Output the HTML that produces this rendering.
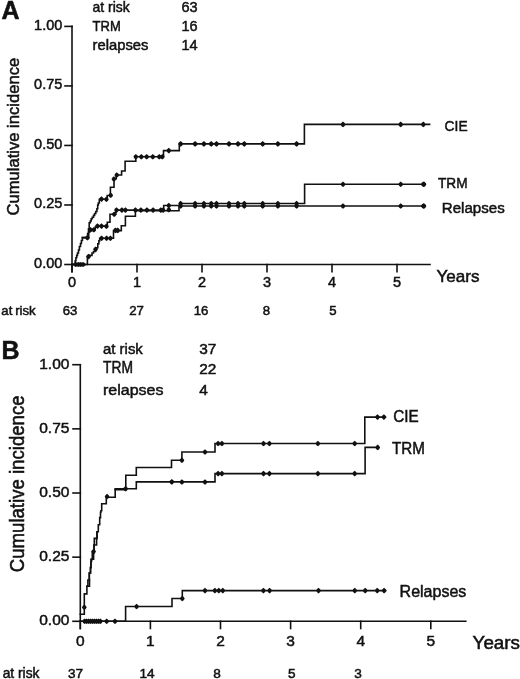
<!DOCTYPE html>
<html><head><meta charset="utf-8"><title>Cumulative incidence</title>
<style>
html,body{margin:0;padding:0;background:#fff;}
svg{display:block;}
text{font-family:"Liberation Sans", Arial, Helvetica, sans-serif;fill:#111;stroke:#111;stroke-width:0.5px;}
</style></head>
<body>
<svg width="520" height="679" viewBox="0 0 520 679">
<rect width="520" height="679" fill="#fff"/>
<g stroke="#111" fill="#111" stroke-linecap="square">
<line x1="72.0" y1="26.4" x2="72.0" y2="271.6" stroke-width="1.6"/>
<line x1="72.0" y1="264.5" x2="430" y2="264.5" stroke-width="1.6"/>
<line x1="65" y1="264.5" x2="72.0" y2="264.5" stroke-width="1.6"/>
<line x1="65" y1="204.975" x2="72.0" y2="204.975" stroke-width="1.6"/>
<line x1="65" y1="145.45" x2="72.0" y2="145.45" stroke-width="1.6"/>
<line x1="65" y1="85.92500000000001" x2="72.0" y2="85.92500000000001" stroke-width="1.6"/>
<line x1="65" y1="26.400000000000006" x2="72.0" y2="26.400000000000006" stroke-width="1.6"/>
<line x1="72.0" y1="264.5" x2="72.0" y2="271.6" stroke-width="1.6"/>
<line x1="137.0" y1="264.5" x2="137.0" y2="271.6" stroke-width="1.6"/>
<line x1="202.0" y1="264.5" x2="202.0" y2="271.6" stroke-width="1.6"/>
<line x1="267.0" y1="264.5" x2="267.0" y2="271.6" stroke-width="1.6"/>
<line x1="332.0" y1="264.5" x2="332.0" y2="271.6" stroke-width="1.6"/>
<line x1="397.0" y1="264.5" x2="397.0" y2="271.6" stroke-width="1.6"/>
<text x="62.3" y="267.6" font-size="14.5" text-anchor="end">0.00</text>
<text x="62.3" y="208.1" font-size="14.5" text-anchor="end">0.25</text>
<text x="62.3" y="148.5" font-size="14.5" text-anchor="end">0.50</text>
<text x="62.3" y="89.0" font-size="14.5" text-anchor="end">0.75</text>
<text x="62.3" y="29.5" font-size="14.5" text-anchor="end">1.00</text>
<text x="72.0" y="286.7" font-size="14.5" text-anchor="middle">0</text>
<text x="137.0" y="286.7" font-size="14.5" text-anchor="middle">1</text>
<text x="202.0" y="286.7" font-size="14.5" text-anchor="middle">2</text>
<text x="267.0" y="286.7" font-size="14.5" text-anchor="middle">3</text>
<text x="332.0" y="286.7" font-size="14.5" text-anchor="middle">4</text>
<text x="397.0" y="286.7" font-size="14.5" text-anchor="middle">5</text>
<text x="436.5" y="281.5" font-size="16.4" text-anchor="start" textLength="43.0" lengthAdjust="spacingAndGlyphs">Years</text>
<text transform="translate(18.7,215.5) rotate(-90)" font-size="16.6">Cumulative incidence</text>
<text x="1.5" y="18.8" font-size="25" text-anchor="start" font-weight="bold">A</text>
<text x="92.6" y="11.6" font-size="14.5" text-anchor="start" textLength="37.2" lengthAdjust="spacingAndGlyphs">at risk</text>
<text x="181.5" y="11.6" font-size="14.5" text-anchor="start">63</text>
<text x="92.6" y="31.2" font-size="14.8" text-anchor="start" textLength="28.2" lengthAdjust="spacingAndGlyphs">TRM</text>
<text x="181.5" y="31.2" font-size="14.5" text-anchor="start">16</text>
<text x="92.6" y="49.7" font-size="14.5" text-anchor="start" textLength="55.8" lengthAdjust="spacingAndGlyphs">relapses</text>
<text x="181.5" y="49.7" font-size="14.5" text-anchor="start">14</text>
<text x="444.6" y="131.4" font-size="15.4" text-anchor="start" textLength="23.0" lengthAdjust="spacingAndGlyphs">CIE</text>
<text x="438.0" y="187.8" font-size="15.3" text-anchor="start" textLength="29.6" lengthAdjust="spacingAndGlyphs">TRM</text>
<text x="441.8" y="212.8" font-size="15.1" text-anchor="start">Relapses</text>
<text x="1.3" y="314.7" font-size="13.2" text-anchor="start" word-spacing="-0.8">at risk</text>
<text x="70.1" y="314.7" font-size="13.2" text-anchor="middle">63</text>
<text x="136.6" y="314.7" font-size="13.2" text-anchor="middle">27</text>
<text x="201" y="314.7" font-size="13.2" text-anchor="middle">16</text>
<text x="266.5" y="314.7" font-size="13.2" text-anchor="middle">8</text>
<text x="333" y="314.7" font-size="13.2" text-anchor="middle">5</text>
<path d="M72,264.5 H75.2 V260.8 H75.9 V257.7 H76.7 V255.4 H77.5 V253 H78.5 V250 H79.4 V246.5 H80.5 V243.5 H81.4 V240.5 H82.4 V237.6 H87.6 V233.5 H88.5 V228.8 H89.2 V222.7 H90.3 V221 H91.2 V218.8 H92.3 V217.3 H93.5 V215.4 H94.6 V213.5 H95.8 V211.5 H96.9 V208.8 H97.7 V205 H98.3 V203 H99.3 V199.3 H107.2 V195.5 H110.4 V187.3 H114 V178.8 H116.2 V175 H121.6 V171 H125.1 V161.2 H135.8 V156.8 H163.5 V150.6 H179.3 V143.9 H304.4 V124.4 H429.6" fill="none" stroke-width="1.6"/>
<path d="M82.4,237.6 H88.7 V232 H89.5 V229.7 H95.2 V227 H96.5 V226.1 H107.3 V222.3 H110 V214.2 H115.8 V210.1 H163.7 V205.5 H180 V203.5 H304.6 V184.3 H425.2" fill="none" stroke-width="1.6"/>
<path d="M72,264.5 H87.4 V256.9 H89.5 V255.4 H92 V253 H93.5 V251.5 H95.5 V249.2 H96.6 V247.7 H97.8 V243.8 H98.9 V240.8 H99.7 V238.3 H113.5 V230.6 H121.3 V225.8 H125.4 V216.2 H135.4 V210.8 H179 V206 H425.2" fill="none" stroke-width="1.6"/>
<path d="M72.80,264.5 Q73.76,262.87 75.8,262.10 Q77.84,262.87 78.80,264.5 Q77.84,266.13 75.8,266.90 Q73.76,266.13 72.80,264.5Z" stroke="none"/>
<path d="M75.30,264.5 Q76.26,262.87 78.3,262.10 Q80.34,262.87 81.30,264.5 Q80.34,266.13 78.3,266.90 Q76.26,266.13 75.30,264.5Z" stroke="none"/>
<path d="M77.60,264.5 Q78.56,262.87 80.6,262.10 Q82.64,262.87 83.60,264.5 Q82.64,266.13 80.6,266.90 Q78.56,266.13 77.60,264.5Z" stroke="none"/>
<path d="M80.00,264.5 Q80.96,262.87 83.0,262.10 Q85.04,262.87 86.00,264.5 Q85.04,266.13 83.0,266.90 Q80.96,266.13 80.00,264.5Z" stroke="none"/>
<path d="M85.00,237.7 Q85.77,235.80 87.4,234.90 Q89.03,235.80 89.80,237.7 Q89.03,239.60 87.4,240.50 Q85.77,239.60 85.00,237.7Z" stroke="none"/>
<path d="M99.10,199.1 Q99.87,197.20 101.5,196.30 Q103.13,197.20 103.90,199.1 Q103.13,201.00 101.5,201.90 Q99.87,201.00 99.10,199.1Z" stroke="none"/>
<path d="M104.00,199.3 Q104.77,197.40 106.4,196.50 Q108.03,197.40 108.80,199.3 Q108.03,201.20 106.4,202.10 Q104.77,201.20 104.00,199.3Z" stroke="none"/>
<path d="M108.30,195.3 Q109.07,193.40 110.7,192.50 Q112.33,193.40 113.10,195.3 Q112.33,197.20 110.7,198.10 Q109.07,197.20 108.30,195.3Z" stroke="none"/>
<path d="M111.50,179 Q112.27,177.10 113.9,176.20 Q115.53,177.10 116.30,179 Q115.53,180.90 113.9,181.80 Q112.27,180.90 111.50,179Z" stroke="none"/>
<path d="M114.40,175 Q115.17,173.10 116.8,172.20 Q118.43,173.10 119.20,175 Q118.43,176.90 116.8,177.80 Q115.17,176.90 114.40,175Z" stroke="none"/>
<path d="M133.40,156.8 Q134.17,154.90 135.8,154.00 Q137.43,154.90 138.20,156.8 Q137.43,158.70 135.8,159.60 Q134.17,158.70 133.40,156.8Z" stroke="none"/>
<path d="M138.90,156.8 Q139.67,154.90 141.3,154.00 Q142.93,154.90 143.70,156.8 Q142.93,158.70 141.3,159.60 Q139.67,158.70 138.90,156.8Z" stroke="none"/>
<path d="M144.30,156.8 Q145.07,154.90 146.7,154.00 Q148.33,154.90 149.10,156.8 Q148.33,158.70 146.7,159.60 Q145.07,158.70 144.30,156.8Z" stroke="none"/>
<path d="M150.40,156.8 Q151.17,154.90 152.8,154.00 Q154.43,154.90 155.20,156.8 Q154.43,158.70 152.8,159.60 Q151.17,158.70 150.40,156.8Z" stroke="none"/>
<path d="M156.90,156.8 Q157.67,154.90 159.3,154.00 Q160.93,154.90 161.70,156.8 Q160.93,158.70 159.3,159.60 Q157.67,158.70 156.90,156.8Z" stroke="none"/>
<path d="M159.90,156.8 Q160.67,154.90 162.3,154.00 Q163.93,154.90 164.70,156.8 Q163.93,158.70 162.3,159.60 Q160.67,158.70 159.90,156.8Z" stroke="none"/>
<path d="M166.40,150.6 Q167.17,148.70 168.8,147.80 Q170.43,148.70 171.20,150.6 Q170.43,152.50 168.8,153.40 Q167.17,152.50 166.40,150.6Z" stroke="none"/>
<path d="M178.20,143.9 Q178.97,142.00 180.6,141.10 Q182.23,142.00 183.00,143.9 Q182.23,145.80 180.6,146.70 Q178.97,145.80 178.20,143.9Z" stroke="none"/>
<path d="M192.70,143.9 Q193.47,142.00 195.1,141.10 Q196.73,142.00 197.50,143.9 Q196.73,145.80 195.1,146.70 Q193.47,145.80 192.70,143.9Z" stroke="none"/>
<path d="M201.50,143.9 Q202.27,142.00 203.9,141.10 Q205.53,142.00 206.30,143.9 Q205.53,145.80 203.9,146.70 Q202.27,145.80 201.50,143.9Z" stroke="none"/>
<path d="M208.80,143.9 Q209.57,142.00 211.2,141.10 Q212.83,142.00 213.60,143.9 Q212.83,145.80 211.2,146.70 Q209.57,145.80 208.80,143.9Z" stroke="none"/>
<path d="M214.10,143.9 Q214.87,142.00 216.5,141.10 Q218.13,142.00 218.90,143.9 Q218.13,145.80 216.5,146.70 Q214.87,145.80 214.10,143.9Z" stroke="none"/>
<path d="M226.60,143.9 Q227.37,142.00 229.0,141.10 Q230.63,142.00 231.40,143.9 Q230.63,145.80 229.0,146.70 Q227.37,145.80 226.60,143.9Z" stroke="none"/>
<path d="M235.60,143.9 Q236.37,142.00 238.0,141.10 Q239.63,142.00 240.40,143.9 Q239.63,145.80 238.0,146.70 Q236.37,145.80 235.60,143.9Z" stroke="none"/>
<path d="M241.90,143.9 Q242.67,142.00 244.3,141.10 Q245.93,142.00 246.70,143.9 Q245.93,145.80 244.3,146.70 Q242.67,145.80 241.90,143.9Z" stroke="none"/>
<path d="M260.30,143.9 Q261.07,142.00 262.7,141.10 Q264.33,142.00 265.10,143.9 Q264.33,145.80 262.7,146.70 Q261.07,145.80 260.30,143.9Z" stroke="none"/>
<path d="M275.50,143.9 Q276.27,142.00 277.9,141.10 Q279.53,142.00 280.30,143.9 Q279.53,145.80 277.9,146.70 Q276.27,145.80 275.50,143.9Z" stroke="none"/>
<path d="M294.20,143.9 Q294.97,142.00 296.6,141.10 Q298.23,142.00 299.00,143.9 Q298.23,145.80 296.6,146.70 Q294.97,145.80 294.20,143.9Z" stroke="none"/>
<path d="M340.60,124.4 Q341.37,122.50 343,121.60 Q344.63,122.50 345.40,124.4 Q344.63,126.30 343,127.20 Q341.37,126.30 340.60,124.4Z" stroke="none"/>
<path d="M398.30,124.4 Q399.07,122.50 400.7,121.60 Q402.33,122.50 403.10,124.4 Q402.33,126.30 400.7,127.20 Q399.07,126.30 398.30,124.4Z" stroke="none"/>
<path d="M420.90,124.4 Q421.67,122.50 423.3,121.60 Q424.93,122.50 425.70,124.4 Q424.93,126.30 423.3,127.20 Q421.67,126.30 420.90,124.4Z" stroke="none"/>
<path d="M88.10,229.7 Q88.87,227.80 90.5,226.90 Q92.13,227.80 92.90,229.7 Q92.13,231.60 90.5,232.50 Q88.87,231.60 88.10,229.7Z" stroke="none"/>
<path d="M91.40,229.7 Q92.17,227.80 93.8,226.90 Q95.43,227.80 96.20,229.7 Q95.43,231.60 93.8,232.50 Q92.17,231.60 91.40,229.7Z" stroke="none"/>
<path d="M95.10,226.1 Q95.87,224.20 97.5,223.30 Q99.13,224.20 99.90,226.1 Q99.13,228.00 97.5,228.90 Q95.87,228.00 95.10,226.1Z" stroke="none"/>
<path d="M99.10,226.1 Q99.87,224.20 101.5,223.30 Q103.13,224.20 103.90,226.1 Q103.13,228.00 101.5,228.90 Q99.87,228.00 99.10,226.1Z" stroke="none"/>
<path d="M104.00,226.2 Q104.77,224.30 106.4,223.40 Q108.03,224.30 108.80,226.2 Q108.03,228.10 106.4,229.00 Q104.77,228.10 104.00,226.2Z" stroke="none"/>
<path d="M111.80,214.2 Q112.57,212.30 114.2,211.40 Q115.83,212.30 116.60,214.2 Q115.83,216.10 114.2,217.00 Q112.57,216.10 111.80,214.2Z" stroke="none"/>
<path d="M114.10,210.1 Q114.87,208.20 116.5,207.30 Q118.13,208.20 118.90,210.1 Q118.13,212.00 116.5,212.90 Q114.87,212.00 114.10,210.1Z" stroke="none"/>
<path d="M119.50,210.1 Q120.27,208.20 121.9,207.30 Q123.53,208.20 124.30,210.1 Q123.53,212.00 121.9,212.90 Q120.27,212.00 119.50,210.1Z" stroke="none"/>
<path d="M123.00,210.1 Q123.77,208.20 125.4,207.30 Q127.03,208.20 127.80,210.1 Q127.03,212.00 125.4,212.90 Q123.77,212.00 123.00,210.1Z" stroke="none"/>
<path d="M133.00,210.1 Q133.77,208.20 135.4,207.30 Q137.03,208.20 137.80,210.1 Q137.03,212.00 135.4,212.90 Q133.77,212.00 133.00,210.1Z" stroke="none"/>
<path d="M138.50,210.1 Q139.27,208.20 140.9,207.30 Q142.53,208.20 143.30,210.1 Q142.53,212.00 140.9,212.90 Q139.27,212.00 138.50,210.1Z" stroke="none"/>
<path d="M144.50,210.1 Q145.27,208.20 146.9,207.30 Q148.53,208.20 149.30,210.1 Q148.53,212.00 146.9,212.90 Q145.27,212.00 144.50,210.1Z" stroke="none"/>
<path d="M150.70,210.1 Q151.47,208.20 153.1,207.30 Q154.73,208.20 155.50,210.1 Q154.73,212.00 153.1,212.90 Q151.47,212.00 150.70,210.1Z" stroke="none"/>
<path d="M158.40,210.1 Q159.17,208.20 160.8,207.30 Q162.43,208.20 163.20,210.1 Q162.43,212.00 160.8,212.90 Q159.17,212.00 158.40,210.1Z" stroke="none"/>
<path d="M160.70,210.1 Q161.47,208.20 163.1,207.30 Q164.73,208.20 165.50,210.1 Q164.73,212.00 163.1,212.90 Q161.47,212.00 160.70,210.1Z" stroke="none"/>
<path d="M166.40,205.5 Q167.17,203.60 168.8,202.70 Q170.43,203.60 171.20,205.5 Q170.43,207.40 168.8,208.30 Q167.17,207.40 166.40,205.5Z" stroke="none"/>
<path d="M178.20,203.5 Q178.97,201.60 180.6,200.70 Q182.23,201.60 183.00,203.5 Q182.23,205.40 180.6,206.30 Q178.97,205.40 178.20,203.5Z" stroke="none"/>
<path d="M192.70,203.5 Q193.47,201.60 195.1,200.70 Q196.73,201.60 197.50,203.5 Q196.73,205.40 195.1,206.30 Q193.47,205.40 192.70,203.5Z" stroke="none"/>
<path d="M201.50,203.5 Q202.27,201.60 203.9,200.70 Q205.53,201.60 206.30,203.5 Q205.53,205.40 203.9,206.30 Q202.27,205.40 201.50,203.5Z" stroke="none"/>
<path d="M208.80,203.5 Q209.57,201.60 211.2,200.70 Q212.83,201.60 213.60,203.5 Q212.83,205.40 211.2,206.30 Q209.57,205.40 208.80,203.5Z" stroke="none"/>
<path d="M214.10,203.5 Q214.87,201.60 216.5,200.70 Q218.13,201.60 218.90,203.5 Q218.13,205.40 216.5,206.30 Q214.87,205.40 214.10,203.5Z" stroke="none"/>
<path d="M226.60,203.5 Q227.37,201.60 229.0,200.70 Q230.63,201.60 231.40,203.5 Q230.63,205.40 229.0,206.30 Q227.37,205.40 226.60,203.5Z" stroke="none"/>
<path d="M235.60,203.5 Q236.37,201.60 238.0,200.70 Q239.63,201.60 240.40,203.5 Q239.63,205.40 238.0,206.30 Q236.37,205.40 235.60,203.5Z" stroke="none"/>
<path d="M241.90,203.5 Q242.67,201.60 244.3,200.70 Q245.93,201.60 246.70,203.5 Q245.93,205.40 244.3,206.30 Q242.67,205.40 241.90,203.5Z" stroke="none"/>
<path d="M260.30,203.5 Q261.07,201.60 262.7,200.70 Q264.33,201.60 265.10,203.5 Q264.33,205.40 262.7,206.30 Q261.07,205.40 260.30,203.5Z" stroke="none"/>
<path d="M275.50,203.5 Q276.27,201.60 277.9,200.70 Q279.53,201.60 280.30,203.5 Q279.53,205.40 277.9,206.30 Q276.27,205.40 275.50,203.5Z" stroke="none"/>
<path d="M294.20,203.5 Q294.97,201.60 296.6,200.70 Q298.23,201.60 299.00,203.5 Q298.23,205.40 296.6,206.30 Q294.97,205.40 294.20,203.5Z" stroke="none"/>
<path d="M340.60,184.3 Q341.37,182.40 343,181.50 Q344.63,182.40 345.40,184.3 Q344.63,186.20 343,187.10 Q341.37,186.20 340.60,184.3Z" stroke="none"/>
<path d="M398.30,184.3 Q399.07,182.40 400.7,181.50 Q402.33,182.40 403.10,184.3 Q402.33,186.20 400.7,187.10 Q399.07,186.20 398.30,184.3Z" stroke="none"/>
<path d="M420.90,184.3 Q421.67,182.40 423.3,181.50 Q424.93,182.40 425.70,184.3 Q424.93,186.20 423.3,187.10 Q421.67,186.20 420.90,184.3Z" stroke="none"/>
<path d="M421.60,184.3 Q422.37,182.40 424.0,181.50 Q425.63,182.40 426.40,184.3 Q425.63,186.20 424.0,187.10 Q422.37,186.20 421.60,184.3Z" stroke="none"/>
<path d="M86.10,256.6 Q86.87,254.70 88.5,253.80 Q90.13,254.70 90.90,256.6 Q90.13,258.50 88.5,259.40 Q86.87,258.50 86.10,256.6Z" stroke="none"/>
<path d="M93.10,249.2 Q93.87,247.30 95.5,246.40 Q97.13,247.30 97.90,249.2 Q97.13,251.10 95.5,252.00 Q93.87,251.10 93.10,249.2Z" stroke="none"/>
<path d="M99.20,238.2 Q99.97,236.30 101.6,235.40 Q103.23,236.30 104.00,238.2 Q103.23,240.10 101.6,241.00 Q99.97,240.10 99.20,238.2Z" stroke="none"/>
<path d="M104.20,238.2 Q104.97,236.30 106.6,235.40 Q108.23,236.30 109.00,238.2 Q108.23,240.10 106.6,241.00 Q104.97,240.10 104.20,238.2Z" stroke="none"/>
<path d="M108.00,238.2 Q108.77,236.30 110.4,235.40 Q112.03,236.30 112.80,238.2 Q112.03,240.10 110.4,241.00 Q108.77,240.10 108.00,238.2Z" stroke="none"/>
<path d="M113.00,230.4 Q113.77,228.50 115.4,227.60 Q117.03,228.50 117.80,230.4 Q117.03,232.30 115.4,233.20 Q113.77,232.30 113.00,230.4Z" stroke="none"/>
<path d="M115.30,230.4 Q116.07,228.50 117.7,227.60 Q119.33,228.50 120.10,230.4 Q119.33,232.30 117.7,233.20 Q116.07,232.30 115.30,230.4Z" stroke="none"/>
<path d="M166.40,209.8 Q167.17,207.90 168.8,207.00 Q170.43,207.90 171.20,209.8 Q170.43,211.70 168.8,212.60 Q167.17,211.70 166.40,209.8Z" stroke="none"/>
<path d="M178.20,206 Q178.97,204.10 180.6,203.20 Q182.23,204.10 183.00,206 Q182.23,207.90 180.6,208.80 Q178.97,207.90 178.20,206Z" stroke="none"/>
<path d="M192.70,206 Q193.47,204.10 195.1,203.20 Q196.73,204.10 197.50,206 Q196.73,207.90 195.1,208.80 Q193.47,207.90 192.70,206Z" stroke="none"/>
<path d="M201.50,206 Q202.27,204.10 203.9,203.20 Q205.53,204.10 206.30,206 Q205.53,207.90 203.9,208.80 Q202.27,207.90 201.50,206Z" stroke="none"/>
<path d="M208.80,206 Q209.57,204.10 211.2,203.20 Q212.83,204.10 213.60,206 Q212.83,207.90 211.2,208.80 Q209.57,207.90 208.80,206Z" stroke="none"/>
<path d="M214.10,206 Q214.87,204.10 216.5,203.20 Q218.13,204.10 218.90,206 Q218.13,207.90 216.5,208.80 Q214.87,207.90 214.10,206Z" stroke="none"/>
<path d="M226.60,206 Q227.37,204.10 229.0,203.20 Q230.63,204.10 231.40,206 Q230.63,207.90 229.0,208.80 Q227.37,207.90 226.60,206Z" stroke="none"/>
<path d="M235.60,206 Q236.37,204.10 238.0,203.20 Q239.63,204.10 240.40,206 Q239.63,207.90 238.0,208.80 Q236.37,207.90 235.60,206Z" stroke="none"/>
<path d="M241.90,206 Q242.67,204.10 244.3,203.20 Q245.93,204.10 246.70,206 Q245.93,207.90 244.3,208.80 Q242.67,207.90 241.90,206Z" stroke="none"/>
<path d="M260.30,206 Q261.07,204.10 262.7,203.20 Q264.33,204.10 265.10,206 Q264.33,207.90 262.7,208.80 Q261.07,207.90 260.30,206Z" stroke="none"/>
<path d="M275.50,206 Q276.27,204.10 277.9,203.20 Q279.53,204.10 280.30,206 Q279.53,207.90 277.9,208.80 Q276.27,207.90 275.50,206Z" stroke="none"/>
<path d="M294.20,206 Q294.97,204.10 296.6,203.20 Q298.23,204.10 299.00,206 Q298.23,207.90 296.6,208.80 Q294.97,207.90 294.20,206Z" stroke="none"/>
<path d="M340.60,206 Q341.37,204.10 343,203.20 Q344.63,204.10 345.40,206 Q344.63,207.90 343,208.80 Q341.37,207.90 340.60,206Z" stroke="none"/>
<path d="M398.30,206 Q399.07,204.10 400.7,203.20 Q402.33,204.10 403.10,206 Q402.33,207.90 400.7,208.80 Q399.07,207.90 398.30,206Z" stroke="none"/>
<path d="M420.90,206 Q421.67,204.10 423.3,203.20 Q424.93,204.10 425.70,206 Q424.93,207.90 423.3,208.80 Q421.67,207.90 420.90,206Z" stroke="none"/>
<path d="M421.60,206 Q422.37,204.10 424.0,203.20 Q425.63,204.10 426.40,206 Q425.63,207.90 424.0,208.80 Q422.37,207.90 421.60,206Z" stroke="none"/>
<line x1="80.3" y1="364.7" x2="80.3" y2="628.5" stroke-width="1.6"/>
<line x1="80.3" y1="621.3" x2="465.8" y2="621.3" stroke-width="1.6"/>
<line x1="73" y1="621.3" x2="80.3" y2="621.3" stroke-width="1.6"/>
<line x1="73" y1="557.15" x2="80.3" y2="557.15" stroke-width="1.6"/>
<line x1="73" y1="493.0" x2="80.3" y2="493.0" stroke-width="1.6"/>
<line x1="73" y1="428.84999999999997" x2="80.3" y2="428.84999999999997" stroke-width="1.6"/>
<line x1="73" y1="364.7" x2="80.3" y2="364.7" stroke-width="1.6"/>
<line x1="80.3" y1="621.3" x2="80.3" y2="628.5" stroke-width="1.6"/>
<line x1="150.39999999999998" y1="621.3" x2="150.39999999999998" y2="628.5" stroke-width="1.6"/>
<line x1="220.5" y1="621.3" x2="220.5" y2="628.5" stroke-width="1.6"/>
<line x1="290.59999999999997" y1="621.3" x2="290.59999999999997" y2="628.5" stroke-width="1.6"/>
<line x1="360.7" y1="621.3" x2="360.7" y2="628.5" stroke-width="1.6"/>
<line x1="430.8" y1="621.3" x2="430.8" y2="628.5" stroke-width="1.6"/>
<text x="69.4" y="625.2" font-size="15.5" text-anchor="end">0.00</text>
<text x="69.4" y="561.0" font-size="15.5" text-anchor="end">0.25</text>
<text x="69.4" y="496.9" font-size="15.5" text-anchor="end">0.50</text>
<text x="69.4" y="432.7" font-size="15.5" text-anchor="end">0.75</text>
<text x="69.4" y="368.6" font-size="15.5" text-anchor="end">1.00</text>
<text x="80.3" y="645.6" font-size="15.5" text-anchor="middle">0</text>
<text x="150.39999999999998" y="645.6" font-size="15.5" text-anchor="middle">1</text>
<text x="220.5" y="645.6" font-size="15.5" text-anchor="middle">2</text>
<text x="290.59999999999997" y="645.6" font-size="15.5" text-anchor="middle">3</text>
<text x="360.7" y="645.6" font-size="15.5" text-anchor="middle">4</text>
<text x="430.8" y="645.6" font-size="15.5" text-anchor="middle">5</text>
<text x="472.6" y="649.3" font-size="17.6" text-anchor="start" textLength="47.4" lengthAdjust="spacingAndGlyphs">Years</text>
<text transform="translate(23.6,572.2) rotate(-90) scale(1,1.1)" font-size="18.6">Cumulative incidence</text>
<text x="1.6" y="358.6" font-size="25" text-anchor="start" font-weight="bold">B</text>
<text x="103.0" y="353.7" font-size="15.4" text-anchor="start" textLength="39.8" lengthAdjust="spacingAndGlyphs">at risk</text>
<text x="199.3" y="353.7" font-size="15.4" text-anchor="start">37</text>
<text x="103.0" y="373.2" font-size="16.0" text-anchor="start" textLength="30.0" lengthAdjust="spacingAndGlyphs">TRM</text>
<text x="199.3" y="373.6" font-size="15.4" text-anchor="start">22</text>
<text x="103.0" y="394.6" font-size="15.4" text-anchor="start" textLength="60.5" lengthAdjust="spacingAndGlyphs">relapses</text>
<text x="199.3" y="394.6" font-size="15.4" text-anchor="start">4</text>
<text x="393.2" y="421.7" font-size="16.2" text-anchor="start" textLength="25.5" lengthAdjust="spacingAndGlyphs">CIE</text>
<text x="392.0" y="453.7" font-size="16.2" text-anchor="start" textLength="32.9" lengthAdjust="spacingAndGlyphs">TRM</text>
<text x="399.6" y="597.2" font-size="16.0" text-anchor="start">Relapses</text>
<text x="2.7" y="677.7" font-size="13.8" text-anchor="start">at risk</text>
<text x="75.5" y="677.7" font-size="13.6" text-anchor="middle">37</text>
<text x="147" y="677.7" font-size="13.6" text-anchor="middle">14</text>
<text x="217" y="677.7" font-size="13.6" text-anchor="middle">8</text>
<text x="291.7" y="677.7" font-size="13.6" text-anchor="middle">5</text>
<text x="358" y="677.7" font-size="13.6" text-anchor="middle">3</text>
<path d="M80.3,614.3 H84.3 V593.9 H86.9 V586.3 H87.9 V580 H89.3 V573 H90.5 V567.5 H91 V561.5 H91.5 V559.4 H92.3 V552 H94 V545 H94.3 V538.4 H97 V531.8 H98.3 V524.7 H99.7 V517.6 H100.5 V512.3 H100.9 V510.8 H101.7 V503.8 H106.3 V497.3 H115.2 V489.6 H125.8 V475.2 H136.3 V467.5 H171.5 V460.3 H181.9 V452 H215 V443.5 H364.8 V417.1 H385.4" fill="none" stroke-width="1.6"/>
<path d="M86.9,586.3 H89.5 V579.5 H89.3 V573 H90.5 V567.5 H91 V559.2 H93.6 V551.6 H94 V545 H96.6 V538.4 H97 V531.8 M115.2,489.6 V488.8 H136.3 V481.9 H215 V473.6 H365.1 V447.4 H378" fill="none" stroke-width="1.6"/>
<path d="M80.3,621.3 H125.6 V606.5 H172 V598.5 H182.3 V590.6 H385.6" fill="none" stroke-width="1.6"/>
<path d="M81.90,607.2 Q82.67,605.30 84.3,604.40 Q85.93,605.30 86.70,607.2 Q85.93,609.10 84.3,610.00 Q82.67,609.10 81.90,607.2Z" stroke="none"/>
<path d="M91.20,551.6 Q91.97,549.70 93.6,548.80 Q95.23,549.70 96.00,551.6 Q95.23,553.50 93.6,554.40 Q91.97,553.50 91.20,551.6Z" stroke="none"/>
<path d="M104.70,496.5 Q105.47,494.60 107.1,493.70 Q108.73,494.60 109.50,496.5 Q108.73,498.40 107.1,499.30 Q105.47,498.40 104.70,496.5Z" stroke="none"/>
<path d="M123.20,488.8 Q123.97,486.90 125.6,486.00 Q127.23,486.90 128.00,488.8 Q127.23,490.70 125.6,491.60 Q123.97,490.70 123.20,488.8Z" stroke="none"/>
<path d="M179.50,460.3 Q180.27,458.40 181.9,457.50 Q183.53,458.40 184.30,460.3 Q183.53,462.20 181.9,463.10 Q180.27,462.20 179.50,460.3Z" stroke="none"/>
<path d="M202.60,452 Q203.37,450.10 205,449.20 Q206.63,450.10 207.40,452 Q206.63,453.90 205,454.80 Q203.37,453.90 202.60,452Z" stroke="none"/>
<path d="M215.70,443.5 Q216.47,441.60 218.1,440.70 Q219.73,441.60 220.50,443.5 Q219.73,445.40 218.1,446.30 Q216.47,445.40 215.70,443.5Z" stroke="none"/>
<path d="M219.50,443.5 Q220.27,441.60 221.9,440.70 Q223.53,441.60 224.30,443.5 Q223.53,445.40 221.9,446.30 Q220.27,445.40 219.50,443.5Z" stroke="none"/>
<path d="M261.10,443.5 Q261.87,441.60 263.5,440.70 Q265.13,441.60 265.90,443.5 Q265.13,445.40 263.5,446.30 Q261.87,445.40 261.10,443.5Z" stroke="none"/>
<path d="M267.00,443.5 Q267.77,441.60 269.4,440.70 Q271.03,441.60 271.80,443.5 Q271.03,445.40 269.4,446.30 Q267.77,445.40 267.00,443.5Z" stroke="none"/>
<path d="M315.50,443.5 Q316.27,441.60 317.9,440.70 Q319.53,441.60 320.30,443.5 Q319.53,445.40 317.9,446.30 Q316.27,445.40 315.50,443.5Z" stroke="none"/>
<path d="M352.30,443.5 Q353.07,441.60 354.7,440.70 Q356.33,441.60 357.10,443.5 Q356.33,445.40 354.7,446.30 Q353.07,445.40 352.30,443.5Z" stroke="none"/>
<path d="M375.10,417.1 Q375.87,415.20 377.5,414.30 Q379.13,415.20 379.90,417.1 Q379.13,419.00 377.5,419.90 Q375.87,419.00 375.10,417.1Z" stroke="none"/>
<path d="M381.50,417.1 Q382.27,415.20 383.9,414.30 Q385.53,415.20 386.30,417.1 Q385.53,419.00 383.9,419.90 Q382.27,419.00 381.50,417.1Z" stroke="none"/>
<path d="M169.40,481.9 Q170.17,480.00 171.8,479.10 Q173.43,480.00 174.20,481.9 Q173.43,483.80 171.8,484.70 Q170.17,483.80 169.40,481.9Z" stroke="none"/>
<path d="M179.50,482 Q180.27,480.10 181.9,479.20 Q183.53,480.10 184.30,482 Q183.53,483.90 181.9,484.80 Q180.27,483.90 179.50,482Z" stroke="none"/>
<path d="M202.60,482 Q203.37,480.10 205,479.20 Q206.63,480.10 207.40,482 Q206.63,483.90 205,484.80 Q203.37,483.90 202.60,482Z" stroke="none"/>
<path d="M215.70,473.6 Q216.47,471.70 218.1,470.80 Q219.73,471.70 220.50,473.6 Q219.73,475.50 218.1,476.40 Q216.47,475.50 215.70,473.6Z" stroke="none"/>
<path d="M219.50,473.6 Q220.27,471.70 221.9,470.80 Q223.53,471.70 224.30,473.6 Q223.53,475.50 221.9,476.40 Q220.27,475.50 219.50,473.6Z" stroke="none"/>
<path d="M261.10,473.6 Q261.87,471.70 263.5,470.80 Q265.13,471.70 265.90,473.6 Q265.13,475.50 263.5,476.40 Q261.87,475.50 261.10,473.6Z" stroke="none"/>
<path d="M267.00,473.6 Q267.77,471.70 269.4,470.80 Q271.03,471.70 271.80,473.6 Q271.03,475.50 269.4,476.40 Q267.77,475.50 267.00,473.6Z" stroke="none"/>
<path d="M315.50,473.6 Q316.27,471.70 317.9,470.80 Q319.53,471.70 320.30,473.6 Q319.53,475.50 317.9,476.40 Q316.27,475.50 315.50,473.6Z" stroke="none"/>
<path d="M352.30,473.6 Q353.07,471.70 354.7,470.80 Q356.33,471.70 357.10,473.6 Q356.33,475.50 354.7,476.40 Q353.07,475.50 352.30,473.6Z" stroke="none"/>
<path d="M375.30,447.4 Q376.07,445.50 377.7,444.60 Q379.33,445.50 380.10,447.4 Q379.33,449.30 377.7,450.20 Q376.07,449.30 375.30,447.4Z" stroke="none"/>
<path d="M82.20,621.3 Q82.97,619.40 84.6,618.50 Q86.23,619.40 87.00,621.3 Q86.23,623.20 84.6,624.10 Q82.97,623.20 82.20,621.3Z" stroke="none"/>
<path d="M84.20,621.3 Q84.97,619.40 86.6,618.50 Q88.23,619.40 89.00,621.3 Q88.23,623.20 86.6,624.10 Q84.97,623.20 84.20,621.3Z" stroke="none"/>
<path d="M86.20,621.3 Q86.97,619.40 88.6,618.50 Q90.23,619.40 91.00,621.3 Q90.23,623.20 88.6,624.10 Q86.97,623.20 86.20,621.3Z" stroke="none"/>
<path d="M88.20,621.3 Q88.97,619.40 90.6,618.50 Q92.23,619.40 93.00,621.3 Q92.23,623.20 90.6,624.10 Q88.97,623.20 88.20,621.3Z" stroke="none"/>
<path d="M90.20,621.3 Q90.97,619.40 92.6,618.50 Q94.23,619.40 95.00,621.3 Q94.23,623.20 92.6,624.10 Q90.97,623.20 90.20,621.3Z" stroke="none"/>
<path d="M92.20,621.3 Q92.97,619.40 94.6,618.50 Q96.23,619.40 97.00,621.3 Q96.23,623.20 94.6,624.10 Q92.97,623.20 92.20,621.3Z" stroke="none"/>
<path d="M94.20,621.3 Q94.97,619.40 96.6,618.50 Q98.23,619.40 99.00,621.3 Q98.23,623.20 96.6,624.10 Q94.97,623.20 94.20,621.3Z" stroke="none"/>
<path d="M96.20,621.3 Q96.97,619.40 98.6,618.50 Q100.23,619.40 101.00,621.3 Q100.23,623.20 98.6,624.10 Q96.97,623.20 96.20,621.3Z" stroke="none"/>
<path d="M98.00,621.3 Q98.77,619.40 100.4,618.50 Q102.03,619.40 102.80,621.3 Q102.03,623.20 100.4,624.10 Q98.77,623.20 98.00,621.3Z" stroke="none"/>
<path d="M104.30,621.3 Q105.07,619.40 106.7,618.50 Q108.33,619.40 109.10,621.3 Q108.33,623.20 106.7,624.10 Q105.07,623.20 104.30,621.3Z" stroke="none"/>
<path d="M112.60,621.3 Q113.37,619.40 115.0,618.50 Q116.63,619.40 117.40,621.3 Q116.63,623.20 115.0,624.10 Q113.37,623.20 112.60,621.3Z" stroke="none"/>
<path d="M134.20,606.5 Q134.97,604.60 136.6,603.70 Q138.23,604.60 139.00,606.5 Q138.23,608.40 136.6,609.30 Q134.97,608.40 134.20,606.5Z" stroke="none"/>
<path d="M179.90,598.5 Q180.67,596.60 182.3,595.70 Q183.93,596.60 184.70,598.5 Q183.93,600.40 182.3,601.30 Q180.67,600.40 179.90,598.5Z" stroke="none"/>
<path d="M202.60,590.6 Q203.37,588.70 205,587.80 Q206.63,588.70 207.40,590.6 Q206.63,592.50 205,593.40 Q203.37,592.50 202.60,590.6Z" stroke="none"/>
<path d="M212.50,590.6 Q213.27,588.70 214.9,587.80 Q216.53,588.70 217.30,590.6 Q216.53,592.50 214.9,593.40 Q213.27,592.50 212.50,590.6Z" stroke="none"/>
<path d="M216.40,590.6 Q217.17,588.70 218.8,587.80 Q220.43,588.70 221.20,590.6 Q220.43,592.50 218.8,593.40 Q217.17,592.50 216.40,590.6Z" stroke="none"/>
<path d="M220.40,590.6 Q221.17,588.70 222.8,587.80 Q224.43,588.70 225.20,590.6 Q224.43,592.50 222.8,593.40 Q221.17,592.50 220.40,590.6Z" stroke="none"/>
<path d="M261.00,590.6 Q261.77,588.70 263.4,587.80 Q265.03,588.70 265.80,590.6 Q265.03,592.50 263.4,593.40 Q261.77,592.50 261.00,590.6Z" stroke="none"/>
<path d="M267.20,590.6 Q267.97,588.70 269.6,587.80 Q271.23,588.70 272.00,590.6 Q271.23,592.50 269.6,593.40 Q267.97,592.50 267.20,590.6Z" stroke="none"/>
<path d="M316.10,590.6 Q316.87,588.70 318.5,587.80 Q320.13,588.70 320.90,590.6 Q320.13,592.50 318.5,593.40 Q316.87,592.50 316.10,590.6Z" stroke="none"/>
<path d="M352.40,590.6 Q353.17,588.70 354.8,587.80 Q356.43,588.70 357.20,590.6 Q356.43,592.50 354.8,593.40 Q353.17,592.50 352.40,590.6Z" stroke="none"/>
<path d="M362.80,590.6 Q363.57,588.70 365.2,587.80 Q366.83,588.70 367.60,590.6 Q366.83,592.50 365.2,593.40 Q363.57,592.50 362.80,590.6Z" stroke="none"/>
<path d="M374.80,590.6 Q375.57,588.70 377.2,587.80 Q378.83,588.70 379.60,590.6 Q378.83,592.50 377.2,593.40 Q375.57,592.50 374.80,590.6Z" stroke="none"/>
<path d="M381.70,590.6 Q382.47,588.70 384.1,587.80 Q385.73,588.70 386.50,590.6 Q385.73,592.50 384.1,593.40 Q382.47,592.50 381.70,590.6Z" stroke="none"/>
</g>
</svg>
</body></html>
